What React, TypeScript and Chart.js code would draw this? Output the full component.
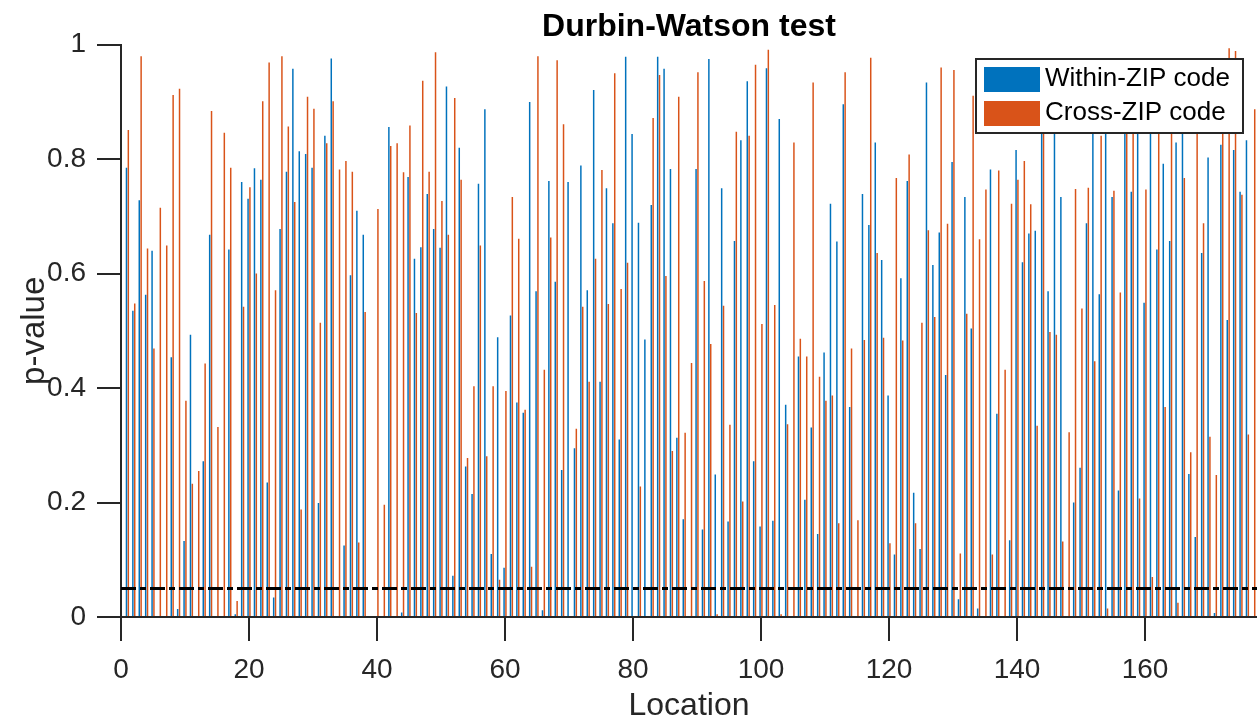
import React, { useEffect, useRef } from 'react';
import { Chart, registerables } from 'chart.js';

Chart.register(...registerables);

// p-values per location (location index = position in array + 1)
const withinZip = [
  0.785, 0.535, 0.728, 0.563, 0.640, 0, 0, 0.454, 0.014, 0.133,
  0.493, 0, 0.272, 0.668, 0, 0, 0.642, 0.005, 0.760, 0.731,
  0.784, 0.764, 0.235, 0.034, 0.678, 0.778, 0.958, 0.814, 0.809, 0.785,
  0.199, 0.841, 0.976, 0, 0.125, 0.597, 0.710, 0.668, 0, 0,
  0, 0.856, 0, 0.008, 0.769, 0.626, 0.646, 0.739, 0.678, 0.645,
  0.927, 0.072, 0.820, 0.263, 0.215, 0.757, 0.887, 0.110, 0.489, 0.086,
  0.527, 0.375, 0.357, 0.900, 0.569, 0.012, 0.762, 0.586, 0.257, 0.760,
  0.295, 0.789, 0.571, 0.921, 0.411, 0.749, 0.688, 0.310, 0.979, 0.844,
  0.689, 0.485, 0.720, 0.979, 0.958, 0.783, 0.313, 0.171, 0, 0.783,
  0.153, 0.975, 0.249, 0.749, 0.167, 0.657, 0.833, 0.936, 0.272, 0.158,
  0.959, 0.168, 0.870, 0.371, 0, 0.455, 0.205, 0.331, 0.145, 0.462,
  0.722, 0.656, 0.896, 0.367, 0, 0.739, 0.685, 0.829, 0.624, 0.387,
  0.109, 0.592, 0.762, 0.217, 0.119, 0.934, 0.615, 0.672, 0.423, 0.795,
  0.031, 0.734, 0.504, 0.015, 0, 0.782, 0.355, 0, 0.134, 0.816,
  0.620, 0.670, 0.675, 0.910, 0.569, 0.930, 0.734, 0, 0.200, 0.261,
  0.688, 0.890, 0.564, 0.950, 0.734, 0.221, 0.920, 0.743, 0.880, 0.549,
  0.940, 0.642, 0.792, 0.657, 0.829, 0.900, 0.250, 0.140, 0.636, 0.803,
  0.007, 0.825, 0.519, 0.816, 0.743, 0.833, 0,
];

const crossZip = [
  0.851, 0.548, 0.980, 0.644, 0.469, 0.715, 0.649, 0.912, 0.923, 0.378,
  0.233, 0.255, 0.443, 0.884, 0.332, 0.846, 0.785, 0.028, 0.542, 0.751,
  0.600, 0.901, 0.969, 0.571, 0.980, 0.857, 0.725, 0.188, 0.909, 0.888,
  0.514, 0.828, 0.901, 0.782, 0.797, 0.778, 0.130, 0.533, 0, 0.713,
  0.196, 0.823, 0.828, 0.777, 0.859, 0.531, 0.937, 0.778, 0.987, 0.727,
  0.668, 0.907, 0.764, 0.278, 0.403, 0.649, 0.281, 0.403, 0.065, 0.395,
  0.734, 0.661, 0.362, 0.088, 0.980, 0.432, 0.663, 0.973, 0.861, 0,
  0.329, 0.542, 0.411, 0.626, 0.781, 0.547, 0.950, 0.573, 0.619, 0,
  0.228, 0, 0.872, 0.947, 0.596, 0.290, 0.909, 0.322, 0.444, 0.952,
  0.587, 0.477, 0.005, 0.544, 0.336, 0.848, 0.202, 0.841, 0.965, 0.512,
  0.991, 0.545, 0.005, 0.337, 0.829, 0.486, 0.455, 0.934, 0.420, 0.378,
  0.387, 0.164, 0.952, 0.469, 0.169, 0.484, 0.977, 0.636, 0.488, 0.129,
  0.767, 0.483, 0.808, 0.164, 0.514, 0.676, 0.524, 0.960, 0.687, 0.956,
  0.111, 0.530, 0.911, 0.660, 0.747, 0.109, 0.780, 0.432, 0.722, 0.764,
  0.797, 0.721, 0.334, 0.870, 0.498, 0.493, 0.132, 0.323, 0.748, 0.539,
  0.750, 0.447, 0.841, 0.015, 0.745, 0.567, 0.930, 0.900, 0.207, 0.747,
  0.070, 0.920, 0.367, 0.890, 0.025, 0.767, 0.288, 0.950, 0.688, 0.315,
  0.248, 0.910, 0.994, 0.989, 0.738, 0.319, 0.887,
];

const locations = withinZip.map((_, i) => i + 1);

const seriesLabels = ['Within-ZIP code', 'Cross-ZIP code'];
const seriesColors = ['#0072BD', '#D95319'];

const xTickValues = [0, 20, 40, 60, 80, 100, 120, 140, 160];
const xTickLabels = ['0', '20', '40', '60', '80', '100', '120', '140', '160'];
const yTickValues = [0, 0.2, 0.4, 0.6, 0.8, 1];
const yTickLabels = ['0', '0.2', '0.4', '0.6', '0.8', '1'];

const threshold = 0.05;
const xMin = 0;
const xMax = 177.5;

const FONT = '"Liberation Sans", Arial, Helvetica, sans-serif';
const AXIS_COLOR = '#262626';

const boxLegend = {
  id: 'boxLegend',
  afterDatasetsDraw(chart: any) {
    const { ctx, chartArea } = chart;
    const w = 267;
    const h = 74;
    const x0 = chartArea.right - 14 - w;
    const y0 = chartArea.top + 14.3;
    ctx.save();
    ctx.fillStyle = '#ffffff';
    ctx.fillRect(x0, y0, w, h);
    ctx.lineWidth = 2;
    ctx.strokeStyle = AXIS_COLOR;
    ctx.strokeRect(x0, y0, w, h);
    ctx.font = `26px ${FONT}`;
    ctx.textBaseline = 'middle';
    ctx.textAlign = 'left';
    const items = chart.data.datasets.filter((d: any) => d.type !== 'line');
    items.forEach((d: any, i: number) => {
      const sy = y0 + 8 + i * 34;
      ctx.fillStyle = d.backgroundColor;
      ctx.fillRect(x0 + 8, sy, 56, 25);
      ctx.fillStyle = '#000000';
      ctx.fillText(d.label, x0 + 69, sy + 11.5);
    });
    ctx.restore();
  },
};

export default function App() {
  const canvasRef = useRef<HTMLCanvasElement | null>(null);

  useEffect(() => {
    if (!canvasRef.current) return;
    const chart = new Chart(canvasRef.current, {
      type: 'bar',
      data: {
        datasets: [
          {
            type: 'bar',
            label: seriesLabels[0],
            data: locations.map((x, i) => ({ x, y: withinZip[i] })),
            backgroundColor: seriesColors[0],
            borderWidth: 0,
            categoryPercentage: 0.58,
            barPercentage: 0.8,
          },
          {
            type: 'bar',
            label: seriesLabels[1],
            data: locations.map((x, i) => ({ x, y: crossZip[i] })),
            backgroundColor: seriesColors[1],
            borderWidth: 0,
            categoryPercentage: 0.58,
            barPercentage: 0.8,
          },
          {
            type: 'line',
            label: 'p = 0.05',
            data: [
              { x: xMin, y: threshold },
              { x: xMax, y: threshold },
            ],
            borderColor: '#000000',
            borderWidth: 3,
            borderDash: [15, 4, 6, 4],
            pointRadius: 0,
            fill: false,
            order: -1,
          },
        ] as any,
      },
      options: {
        animation: false,
        responsive: true,
        maintainAspectRatio: false,
        devicePixelRatio: 1,
        events: [],
        layout: { padding: { top: 0, right: 0, bottom: 0, left: 0 } },
        plugins: {
          legend: { display: false },
          tooltip: { enabled: false },
          title: {
            display: true,
            fullSize: false,
            text: 'Durbin-Watson test',
            color: '#000000',
            font: { family: FONT, size: 32, weight: 'bold', lineHeight: 1 },
            padding: { top: 11, bottom: 1.7 },
          },
        },
        scales: {
          x: {
            type: 'linear',
            min: xMin,
            max: xMax,
            offset: false,
            afterBuildTicks: (scale: any) => {
              scale.ticks = xTickValues.map((v) => ({ value: v }));
            },
            afterFit: (scale: any) => {
              scale.height = 106;
            },
            ticks: {
              autoSkip: false,
              maxRotation: 0,
              padding: 12,
              color: AXIS_COLOR,
              font: { family: FONT, size: 28 },
              callback: (value: any) => {
                const idx = xTickValues.indexOf(Number(value));
                return idx >= 0 ? xTickLabels[idx] : '';
              },
            },
            grid: {
              display: true,
              offset: false,
              drawOnChartArea: false,
              drawTicks: true,
              tickLength: 24,
              lineWidth: 2,
              color: AXIS_COLOR,
              tickColor: AXIS_COLOR,
            },
            border: { display: true, color: AXIS_COLOR, width: 2 },
            title: {
              display: true,
              text: 'Location',
              color: AXIS_COLOR,
              font: { family: FONT, size: 32 },
              padding: { top: 0, bottom: -2 },
            },
          },
          y: {
            type: 'linear',
            min: 0,
            max: 1,
            afterBuildTicks: (scale: any) => {
              scale.ticks = yTickValues.map((v) => ({ value: v }));
            },
            afterFit: (scale: any) => {
              scale.width = 121;
            },
            ticks: {
              padding: 11,
              color: AXIS_COLOR,
              font: { family: FONT, size: 28 },
              callback: (value: any) => {
                const idx = yTickValues.findIndex((v) => Math.abs(v - Number(value)) < 1e-9);
                return idx >= 0 ? yTickLabels[idx] : '';
              },
            },
            grid: {
              display: true,
              drawOnChartArea: false,
              drawTicks: true,
              tickLength: 24,
              lineWidth: 2,
              color: AXIS_COLOR,
              tickColor: AXIS_COLOR,
            },
            border: { display: true, color: AXIS_COLOR, width: 2 },
            title: {
              display: true,
              text: 'p-value',
              color: AXIS_COLOR,
              font: { family: FONT, size: 33 },
              padding: { top: 15, bottom: 0 },
            },
          },
        },
      } as any,
      plugins: [boxLegend],
    });
    return () => chart.destroy();
  }, []);

  return (
    <div style={{ position: 'absolute', left: 0, top: 0, width: 1257, height: 723, background: '#ffffff' }}>
      <canvas ref={canvasRef} />
    </div>
  );
}
